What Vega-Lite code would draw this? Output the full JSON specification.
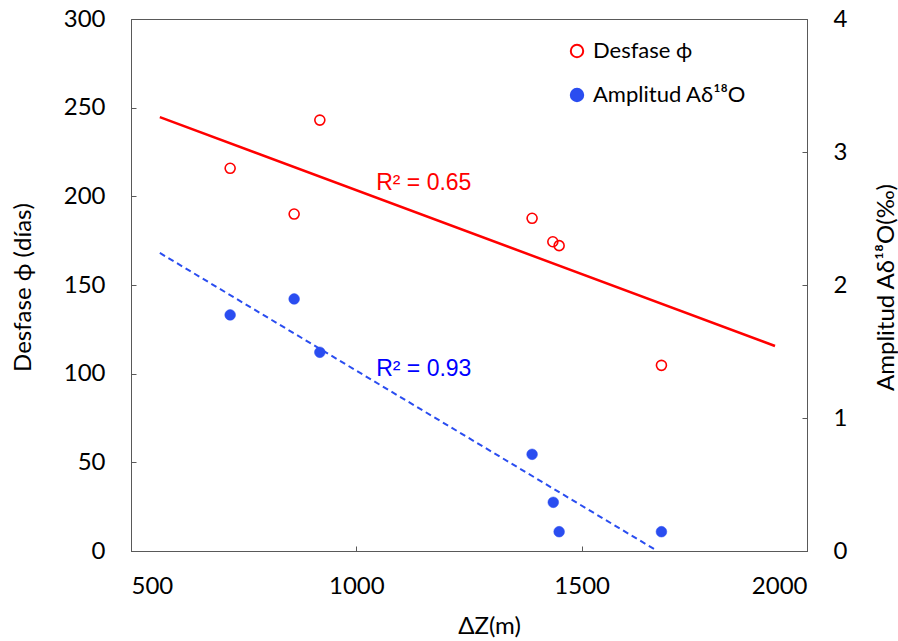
{
  "$schema": "https://vega.github.io/schema/vega-lite/v6.json",
  "width": 676,
  "height": 532,
  "autosize": "none",
  "padding": {"left": 131, "top": 19, "right": 91, "bottom": 90},
  "background": "white",
  "config": {
    "view": {"stroke": "#595959", "strokeWidth": 1},
    "axis": {
      "domainColor": "#595959",
      "tickColor": "#595959",
      "grid": false,
      "labelFont": "Lato",
      "labelFontSize": 24,
      "labelColor": "black",
      "titleFont": "Lato",
      "titleFontSize": 24,
      "titleFontWeight": "normal",
      "titleColor": "black",
      "tickSize": -5
    },
    "legend": {
      "labelFont": "Lato",
      "labelFontSize": 22,
      "labelColor": "black"
    }
  },
  "datasets": {
    "puntos": [
      {"dz": 720, "serie": "Desfase ϕ", "phi": 215.8},
      {"dz": 862, "serie": "Desfase ϕ", "phi": 190},
      {"dz": 919, "serie": "Desfase ϕ", "phi": 243},
      {"dz": 1390, "serie": "Desfase ϕ", "phi": 187.6},
      {"dz": 1436, "serie": "Desfase ϕ", "phi": 174.4},
      {"dz": 1450, "serie": "Desfase ϕ", "phi": 172.2},
      {"dz": 1677, "serie": "Desfase ϕ", "phi": 104.7},
      {"dz": 720, "serie": "Amplitud Aδ¹⁸O", "amp": 1.775},
      {"dz": 862, "serie": "Amplitud Aδ¹⁸O", "amp": 1.895},
      {"dz": 919, "serie": "Amplitud Aδ¹⁸O", "amp": 1.494},
      {"dz": 1390, "serie": "Amplitud Aδ¹⁸O", "amp": 0.727},
      {"dz": 1437, "serie": "Amplitud Aδ¹⁸O", "amp": 0.366},
      {"dz": 1450, "serie": "Amplitud Aδ¹⁸O", "amp": 0.145},
      {"dz": 1677, "serie": "Amplitud Aδ¹⁸O", "amp": 0.145}
    ],
    "tendRoja": [
      {"dz": 564, "phi": 244.7},
      {"dz": 1929, "phi": 115.6}
    ],
    "tendAzul": [
      {"dz": 564, "amp": 2.241},
      {"dz": 1668, "amp": 0}
    ],
    "etiquetas": [
      {"dz": 1044, "phi": 207.5, "amp": 1.368, "texto": "R² = 0.65", "serie": "Desfase ϕ"},
      {"dz": 1044, "phi": 207.5, "amp": 1.368, "texto": "R² = 0.93", "serie": "Amplitud Aδ¹⁸O"}
    ]
  },
  "layer": [
    {
      "layer": [
        {
          "data": {"name": "tendRoja"},
          "mark": {"type": "line", "color": "#ff0000", "strokeWidth": 2.5, "clip": true},
          "encoding": {
            "x": {"field": "dz", "type": "quantitative"},
            "y": {"field": "phi", "type": "quantitative"}
          }
        },
        {
          "data": {"name": "puntos"},
          "transform": [{"filter": "datum.serie === 'Desfase ϕ'"}],
          "mark": {"type": "point", "shape": "circle", "filled": true, "size": 100, "strokeWidth": 1.6, "opacity": 1},
          "encoding": {
            "x": {"field": "dz", "type": "quantitative"},
            "y": {"field": "phi", "type": "quantitative"},
            "fill": {
              "field": "serie", "type": "nominal",
              "scale": {"domain": ["Desfase ϕ", "Amplitud Aδ¹⁸O"], "range": ["transparent", "#2a4df0"]},
              "legend": {
                "title": null, "orient": "none", "legendX": 435, "legendY": 21,
                "symbolType": "circle", "symbolSize": 154, "symbolStrokeWidth": 2,
                "labelOffset": 5, "rowPadding": 22, "padding": 0
              }
            },
            "stroke": {
              "field": "serie", "type": "nominal",
              "scale": {"domain": ["Desfase ϕ", "Amplitud Aδ¹⁸O"], "range": ["#ff0000", "#2a4df0"]},
              "legend": {
                "title": null, "orient": "none", "legendX": 435, "legendY": 21,
                "symbolType": "circle", "symbolSize": 154, "symbolStrokeWidth": 2,
                "labelOffset": 5, "rowPadding": 22, "padding": 0
              }
            }
          }
        },
        {
          "data": {"name": "etiquetas"},
          "transform": [{"filter": "datum.serie === 'Desfase ϕ'"}],
          "mark": {"type": "text", "align": "left", "baseline": "middle", "font": "Liberation Sans", "fontSize": 23, "color": "#ff0000"},
          "encoding": {
            "x": {"field": "dz", "type": "quantitative"},
            "y": {"field": "phi", "type": "quantitative"},
            "text": {"field": "texto"}
          }
        }
      ],
      "encoding": {
        "x": {
          "type": "quantitative",
          "scale": {"domain": [500, 2000], "nice": false, "zero": false},
          "axis": {
            "values": [500, 1000, 1500, 2000],
            "format": "d",
            "title": "ΔZ(m)",
            "labelPadding": 28,
            "titleX": 358, "titleY": 75, "titleBaseline": "middle", "titleAnchor": null
          }
        },
        "y": {
          "type": "quantitative",
          "scale": {"domain": [0, 300], "nice": false},
          "axis": {
            "orient": "left",
            "values": [0, 50, 100, 150, 200, 250, 300],
            "format": "d",
            "title": "Desfase ϕ (días)",
            "labelPadding": 31,
            "titleX": -108, "titleY": 268, "titleAngle": -90, "titleAlign": "center", "titleBaseline": "middle"
          }
        }
      }
    },
    {
      "layer": [
        {
          "data": {"name": "tendAzul"},
          "mark": {"type": "line", "color": "#2a4df0", "strokeWidth": 2, "strokeDash": [6, 4]},
          "encoding": {
            "x": {"field": "dz", "type": "quantitative"},
            "y": {"field": "amp", "type": "quantitative"}
          }
        },
        {
          "data": {"name": "puntos"},
          "transform": [{"filter": "datum.serie === 'Amplitud Aδ¹⁸O'"}],
          "mark": {"type": "point", "shape": "circle", "filled": true, "size": 115, "strokeWidth": 0.5, "opacity": 1},
          "encoding": {
            "x": {"field": "dz", "type": "quantitative"},
            "y": {"field": "amp", "type": "quantitative"},
            "fill": {"field": "serie", "type": "nominal"},
            "stroke": {"field": "serie", "type": "nominal"}
          }
        },
        {
          "data": {"name": "etiquetas"},
          "transform": [{"filter": "datum.serie === 'Amplitud Aδ¹⁸O'"}],
          "mark": {"type": "text", "align": "left", "baseline": "middle", "font": "Liberation Sans", "fontSize": 23, "color": "#0000ff"},
          "encoding": {
            "x": {"field": "dz", "type": "quantitative"},
            "y": {"field": "amp", "type": "quantitative"},
            "text": {"field": "texto"}
          }
        }
      ],
      "encoding": {
        "x": {"type": "quantitative", "scale": {"domain": [500, 2000], "nice": false, "zero": false}},
        "y": {
          "type": "quantitative",
          "scale": {"domain": [0, 4], "nice": false},
          "axis": {
            "orient": "right",
            "values": [0, 1, 2, 3, 4],
            "format": "d",
            "title": "Amplitud Aδ¹⁸O(‰)",
            "labelPadding": 31,
            "titleX": 79, "titleY": 268, "titleAngle": -90, "titleAlign": "center", "titleBaseline": "middle"
          }
        }
      }
    }
  ],
  "resolve": {"scale": {"y": "independent"}}
}
